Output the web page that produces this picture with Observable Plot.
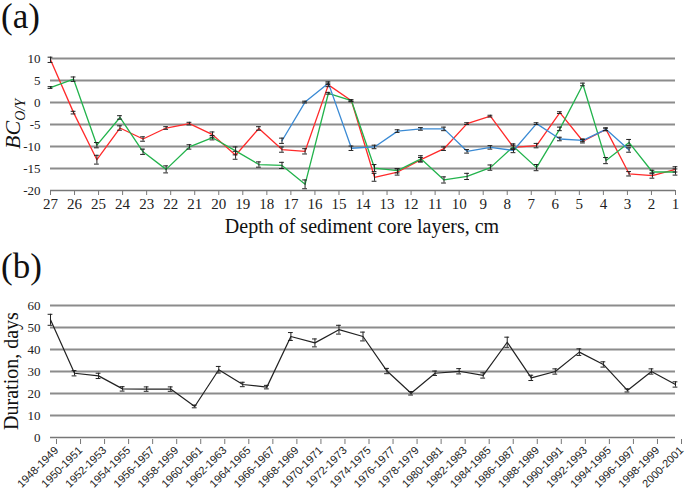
<!DOCTYPE html>
<html><head><meta charset="utf-8">
<script src="https://cdn.jsdelivr.net/npm/d3@7"></script>
<script src="https://cdn.jsdelivr.net/npm/@observablehq/plot@0.6"></script>
<style>
body{margin:0;background:#fff;}
#wrap{position:relative;width:685px;height:490px;overflow:hidden;font-family:"Liberation Serif",serif;}
.abs{position:absolute;white-space:nowrap;line-height:1;color:#111;}
.rot{transform:translate(-50%,-50%) rotate(-90deg);}
.ctr{transform:translate(-50%,-50%);}
</style></head><body>
<div id="wrap">
  <div id="pa" class="abs" style="left:0;top:0"></div>
  <div id="pb" class="abs" style="left:0;top:250px"></div>
  <div class="abs" style="left:1px;top:1px;font-size:35px;line-height:0.9">(a)</div>
  <div class="abs" style="left:1px;top:251px;font-size:35px;line-height:0.9">(b)</div>
  <div class="abs rot" style="left:13px;top:124px;font-size:22px;font-style:italic">BC<span style="font-size:14px;position:relative;top:5px">O/Y</span></div>
  <div class="abs ctr" style="left:362px;top:226px;font-size:20px">Depth of sediment core layers, cm</div>
  <div class="abs rot" style="left:11px;top:371px;font-size:20px">Duration, days</div>
</div>
<script>
// ---- Panel (a) data ----
const depthTicks = [27,26,25,24,23,22,21,20,19,18,17,16,15,14,13,12,11,10,9,8,7,6,5,4,3,2,1];
const bcTicks = [10,5,0,-5,-10,-15,-20];
const depthPos = [27,26.04,25.07,24.11,23.15,22.19,21.22,20.26,19.3,18.33,17.37,16.41,15.44,14.48,13.52,12.56,11.59,10.63,9.67,8.7,7.74,6.78,5.81,4.85,3.89,2.93,1.96,1.0];
const redVals = [9.7,-2.3,-13.0,-5.8,-8.3,-5.8,-4.8,-7.3,-12.0,-5.9,-10.7,-11.1,4.0,0.4,-17.0,-15.8,-13.0,-10.5,-4.8,-3.1,-10.2,-9.8,-2.3,-8.8,-6.1,-16.2,-16.6,-15.2];
const redErr  = [0.6,0.3,1.0,0.5,0.5,0.3,0.3,0.6,0.9,0.4,0.6,0.6,0.4,0.2,0.9,0.7,0.5,0.4,0.2,0.2,0.5,0.5,0.2,0.4,0.3,0.5,0.6,0.6];
const greenVals = [3.4,5.3,-9.7,-3.4,-11.2,-15.2,-10.1,-8.0,-11.0,-14.1,-14.3,-18.6,2.1,0.4,-14.9,-15.5,-12.8,-17.6,-16.8,-14.8,-10.0,-14.8,-6.0,4.1,-13.2,-9.1,-15.8,-15.8];
const greenErr  = [0.2,0.5,0.6,0.4,0.6,0.8,0.5,0.5,0.9,0.6,0.7,1.0,0.2,0.2,0.8,0.5,0.7,0.7,0.7,0.6,0.6,0.7,0.4,0.3,0.7,0.7,0.4,0.7];
const blueVals = [null,null,null,null,null,null,null,null,null,null,-8.7,0.1,4.4,-10.4,-10.1,-6.5,-6.0,-6.0,-11.1,-10.2,-10.9,-4.8,-8.3,-8.6,-6.1,-10.8,null,null];
const blueErr  = [null,null,null,null,null,null,null,null,null,null,0.6,0.2,0.3,0.5,0.4,0.3,0.3,0.4,0.4,0.4,0.5,0.2,0.4,0.3,0.3,0.5,null,null];

// ---- Panel (b) data ----
const periods = ["1948-1949","1950-1951","1952-1953","1954-1955","1956-1957","1958-1959","1960-1961","1962-1963","1964-1965","1966-1967","1968-1969","1970-1971","1972-1973","1974-1975","1976-1977","1978-1979","1980-1981","1982-1983","1984-1985","1986-1987","1988-1989","1990-1991","1992-1993","1994-1995","1996-1997","1998-1999","2000-2001"];
const durations = [53.5,29.2,28.0,22.1,22.0,22.0,14.1,30.8,24.1,22.9,45.9,43.0,49.0,45.9,30.2,20.1,29.2,30.1,28.2,43.3,27.1,30.0,38.8,33.2,21.4,30.0,24.1];
const durErr = [2.5,1.2,1.2,1.0,1.0,1.0,0.6,1.5,1.0,0.8,1.8,1.8,2.0,2.0,1.2,0.8,1.0,1.2,1.2,2.3,1.2,1.2,1.5,1.2,0.7,1.2,1.2];
const durTicks = [0,10,20,30,40,50,60];

const seriesA = [
  {name:"red", color:"#ff2a2a", vals:redVals, errs:redErr},
  {name:"green", color:"#22b34c", vals:greenVals, errs:greenErr},
  {name:"blue", color:"#3a8ad4", vals:blueVals, errs:blueErr}
];
const rowsA = seriesA.flatMap(s => depthPos.map((x,i) => ({s:s.name, x, v:s.vals[i], e:s.errs[i]})).filter(d => d.v != null));

const errMarks = (rows, xf, yv, ye, w) => [
  Plot.ruleX(rows, {x:xf, y1:d=>yv(d)-ye(d), y2:d=>yv(d)+ye(d), stroke:"#222", strokeWidth:1}),
  Plot.ruleY(rows, {y:d=>yv(d)+ye(d), x1:d=>xf(d)-w, x2:d=>xf(d)+w, stroke:"#222", strokeWidth:1}),
  Plot.ruleY(rows, {y:d=>yv(d)-ye(d), x1:d=>xf(d)-w, x2:d=>xf(d)+w, stroke:"#222", strokeWidth:1})
];

const pa = Plot.plot({
  width:685, height:250, marginLeft:50, marginRight:10, marginTop:58, marginBottom:60,
  x:{domain:[27,1], axis:null},
  y:{domain:[-20,10], axis:null},
  style:{fontFamily:"Liberation Serif, serif", background:"transparent", overflow:"visible", color:"#222"},
  marks:[
    Plot.ruleY(bcTicks.filter(v => v > -20), {stroke:"#8c8c8c", strokeWidth:2}),
    Plot.ruleY([-20], {stroke:"#777", strokeWidth:1.3}),
    Plot.axisY({ticks:bcTicks, tickSize:0, tickPadding:10, fontSize:13, label:null, tickFormat:d=>String(d)}),
    Plot.axisX({ticks:depthTicks, tickSize:5, tickPadding:3, fontSize:15, stroke:"#777", label:null, tickFormat:d=>String(d)}),
    ...seriesA.map(s => Plot.line(rowsA.filter(d => d.s === s.name), {x:"x", y:"v", stroke:s.color, strokeWidth:1.3})),
    ...errMarks(rowsA, d=>d.x, d=>d.v, d=>d.e, 0.1)
  ]
});
document.getElementById("pa").appendChild(pa);

const rowsB = durations.map((v,i) => ({i, v, e:durErr[i]}));
const pb = Plot.plot({
  width:685, height:240, marginLeft:50, marginRight:10, marginTop:55, marginBottom:53,
  x:{domain:[0, periods.length-1], axis:null},
  y:{domain:[0,60], axis:null},
  style:{fontFamily:"Liberation Serif, serif", background:"transparent", overflow:"visible", color:"#222"},
  marks:[
    Plot.ruleY(durTicks.filter(v => v > 0), {stroke:"#8c8c8c", strokeWidth:2}),
    Plot.ruleY([0], {stroke:"#777", strokeWidth:1.3}),
    Plot.axisY({ticks:durTicks, tickSize:0, tickPadding:10, fontSize:13, label:null}),
    Plot.axisX({ticks:periods.map((_,i)=>i), tickSize:5, tickPadding:4, stroke:"#777", tickRotate:-45, label:null,
      tickFormat:i=>periods[i], fontSize:11, fontFamily:"Liberation Sans, sans-serif", dx:6, dy:2}),
    Plot.line(rowsB, {x:"i", y:"v", stroke:"#222", strokeWidth:1.2}),
    ...errMarks(rowsB, d=>d.i, d=>d.v, d=>d.e, 0.1)
  ]
});
document.getElementById("pb").appendChild(pb);
</script>
</body></html>
